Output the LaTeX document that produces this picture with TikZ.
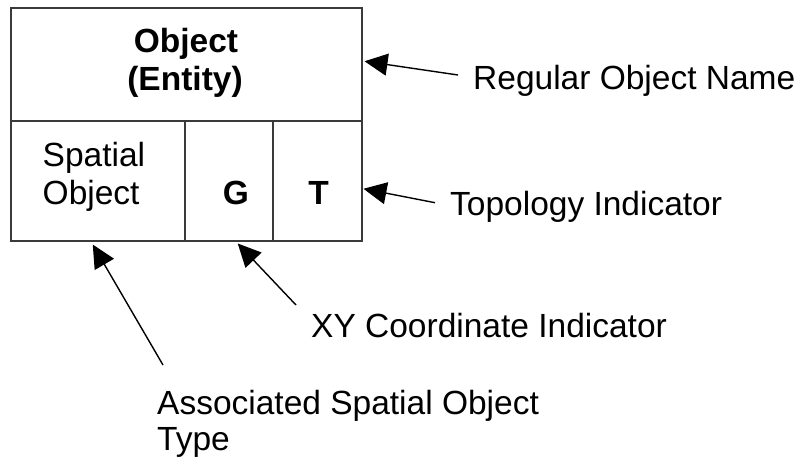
\documentclass[tikz,border=0pt]{standalone}
\usepackage{fontspec}
\setmainfont{Liberation Sans}
\usetikzlibrary{arrows.meta}
\definecolor{boxline}{HTML}{3A3A3A}
\begin{document}
\begin{tikzpicture}[x=1pt,y=-1pt,
  cell/.style={draw=boxline,line width=1.5pt,rectangle,inner sep=0pt,anchor=north west},
  txt/.style={inner sep=0pt,font=\fontsize{33.5}{38}\selectfont},
  btxt/.style={inner sep=0pt,font=\fontsize{33.5}{38}\selectfont\bfseries},
  arr/.style={draw=black,line width=1.4pt,-{Triangle[length=23pt,width=22pt]}}]
\useasboundingbox (0,0) rectangle (799,461);
% box cells
\node[cell,minimum width=351pt,minimum height=113pt] (top) at (10,7) {};
\node[cell,minimum width=174pt,minimum height=120pt] (scell) at (10,120) {};
\node[cell,minimum width=88pt,minimum height=120pt] (gcell) at (184,120) {};
\node[cell,minimum width=89pt,minimum height=120pt] (tcell) at (272,120) {};
% texts in box
\node[btxt,anchor=base] (obj) at (186,52) {Object};
\node[btxt,anchor=base] (ent) at (185,90.5) {(Entity)};
\node[txt,anchor=base west] (sp1) at (42.5,166.5) {Spatial};
\node[txt,anchor=base west] (sp2) at (42.5,204) {Object};
\node[btxt,anchor=base] (g) at (236,204) {G};
\node[btxt,anchor=base] (t) at (318.5,204) {T};
% labels
\node[txt,anchor=base west] (reg) at (473,89) {Regular Object Name};
\node[txt,anchor=base west] (topo) at (450,215) {Topology Indicator};
\node[txt,anchor=base west] (xy) at (311,337) {XY Coordinate Indicator};
\node[txt,anchor=base west] (as1) at (157,414) {Associated Spatial Object};
\node[txt,anchor=base west] (as2) at (157,450) {Type};
% connector ends
\coordinate (tailA) at (458,75);
\coordinate (tailB) at (435,202.7);
\coordinate (tailC) at (296,305);
\coordinate (tailD) at (163,365);
\coordinate (tipA) at ([shift={(2,-3)}]top.east);
\coordinate (tipB) at ([shift={(1,8)}]tcell.east);
\coordinate (tipC) at ([shift={(9,2)}]gcell.south);
\coordinate (tipD) at ([shift={(-5,3)}]scell.south);
% arrows
\draw[arr] (tailA) -- (tipA);
\draw[arr] (tailB) -- (tipB);
\draw[arr] (tailC) -- (tipC);
\draw[arr] (tailD) -- (tipD);
\end{tikzpicture}
\end{document}
